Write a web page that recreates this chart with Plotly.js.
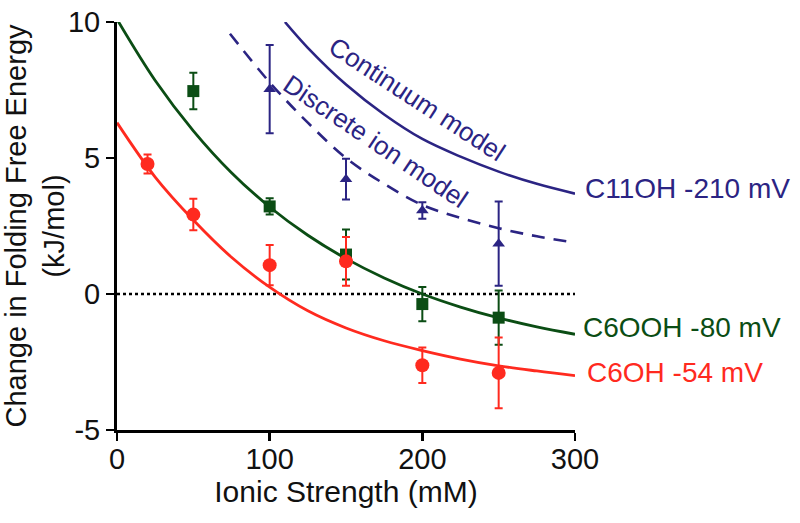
<!DOCTYPE html>
<html>
<head>
<meta charset="utf-8">
<script src="https://cdn.plot.ly/plotly-3.0.1.min.js"></script>
<style>
html,body{margin:0;padding:0;background:#fff;}
#chart{width:800px;height:523px;}
</style>
</head>
<body>
<div id="chart"></div>
<script>
// Measured data (ionic strength in mM, free energy change in kJ/mol)
const c6ohX = [20, 50, 100, 150, 200, 250];
const c6ohY = [4.78, 2.92, 1.06, 1.2, -2.62, -2.9];
const c6ohErr = [0.35, 0.58, 0.74, 0.9, 0.65, 1.3];

const c6oohX = [50, 100, 150, 200, 250];
const c6oohY = [7.46, 3.22, 1.45, -0.37, -0.87];
const c6oohErr = [0.67, 0.3, 0.92, 0.63, 1.0];

const c11ohX = [100, 150, 200, 250];
const c11ohY = [7.53, 4.22, 3.07, 1.85];
const c11ohErr = [1.62, 0.75, 0.3, 1.55];

// Fitted curves
const fitX = [0, 25, 50, 75, 100, 125, 150, 175, 200, 225, 250, 275, 300];
const c6ohFit = [6.3, 4.3, 2.72, 1.35, 0.25, -0.62, -1.25, -1.72, -2.08, -2.39, -2.64, -2.83, -3.0];
const c6oohFit = [10.1, 7.85, 6.0, 4.46, 3.2, 2.16, 1.3, 0.59, 0.0, -0.48, -0.88, -1.21, -1.48];

const contX = [110, 125, 150, 175, 200, 225, 250, 275, 300];
const contY = [10.0, 9.05, 7.7, 6.6, 5.7, 5.05, 4.5, 4.05, 3.69];

const discX = [74, 100, 125, 150, 175, 200, 225, 250, 275, 300];
const discY = [9.57, 7.78, 6.3, 5.0, 4.05, 3.27, 2.8, 2.42, 2.12, 1.89];

const xTicks = [0, 100, 200, 300];
const yTicks = [-5, 0, 5, 10];

const seriesLabels = ['C11OH -210 mV', 'C6OOH -80 mV', 'C6OH -54 mV'];
const modelLabels = ['Continuum model', 'Discrete ion model'];

const RED = '#ff2a1f';
const GREEN = '#0b4d14';
const BLUE = '#2b2483';
const FONT = 'Liberation Sans, Arial, sans-serif';

const traces = [
  {x: fitX, y: c6ohFit, mode: 'lines', line: {color: RED, width: 2.8, shape: 'spline'}, hoverinfo: 'skip'},
  {x: fitX, y: c6oohFit, mode: 'lines', line: {color: GREEN, width: 2.8, shape: 'spline'}, hoverinfo: 'skip'},
  {x: contX, y: contY, mode: 'lines', line: {color: BLUE, width: 2.6, shape: 'spline'}, hoverinfo: 'skip'},
  {x: discX, y: discY, mode: 'lines', line: {color: BLUE, width: 2.6, shape: 'spline', dash: '13px,9px'}, hoverinfo: 'skip'},
  {x: c11ohX, y: c11ohY, mode: 'markers', marker: {symbol: 'triangle-up', size: 11, color: BLUE},
   error_y: {type: 'data', array: c11ohErr, color: BLUE, thickness: 2, width: 4}},
  {x: c6oohX, y: c6oohY, mode: 'markers', marker: {symbol: 'square', size: 12, color: GREEN},
   error_y: {type: 'data', array: c6oohErr, color: GREEN, thickness: 2, width: 4}},
  {x: c6ohX, y: c6ohY, mode: 'markers', marker: {symbol: 'circle', size: 14, color: RED},
   error_y: {type: 'data', array: c6ohErr, color: RED, thickness: 2, width: 4}}
];

const layout = {
  width: 800, height: 523,
  margin: {l: 117, r: 225, t: 22, b: 93},
  paper_bgcolor: '#fff', plot_bgcolor: '#fff',
  showlegend: false,
  font: {family: FONT, color: '#111', size: 27},
  xaxis: {
    range: [0, 300], tickvals: xTicks, ticktext: xTicks.map(String),
    showgrid: false, zeroline: false, showline: true, linecolor: '#000', linewidth: 3,
    ticks: 'outside', ticklen: 8, tickwidth: 2.5, tickcolor: '#000',
    ticklabelstandoff: -7,
    tickfont: {family: FONT, size: 29, color: '#111'},
    title: {text: 'Ionic Strength (mM)', font: {family: FONT, size: 30, color: '#111'}, standoff: 8},
    automargin: false, fixedrange: true
  },
  yaxis: {
    range: [-5, 10], tickvals: yTicks, ticktext: yTicks.map(String),
    showgrid: false, zeroline: false, showline: true, linecolor: '#000', linewidth: 3,
    ticks: 'outside', ticklen: 8, tickwidth: 2.5, tickcolor: '#000',
    tickfont: {family: FONT, size: 29, color: '#111'},
    title: {text: 'Change in Folding Free Energy<br>(kJ/mol)', font: {family: FONT, size: 29, color: '#111'}, standoff: 8},
    automargin: false, fixedrange: true
  },
  shapes: [
    {type: 'line', xref: 'paper', x0: 0, x1: 1, yref: 'y', y0: 0, y1: 0,
     line: {color: '#000', width: 2.5, dash: 'dot'}, layer: 'below'}
  ],
  annotations: [
    {x: 196.3, y: 7.16, xref: 'x', yref: 'y', text: modelLabels[0], showarrow: false, textangle: 33,
     font: {family: FONT, size: 26, color: BLUE}},
    {x: 169, y: 5.62, xref: 'x', yref: 'y', text: modelLabels[1], showarrow: false, textangle: 34,
     font: {family: FONT, size: 26, color: BLUE}},
    {x: 1.018, y: 3.89, xref: 'paper', yref: 'y', text: seriesLabels[0], showarrow: false, xanchor: 'left',
     font: {family: FONT, size: 28, color: BLUE}},
    {x: 1.013, y: -1.24, xref: 'paper', yref: 'y', text: seriesLabels[1], showarrow: false, xanchor: 'left',
     font: {family: FONT, size: 28, color: GREEN}},
    {x: 1.022, y: -2.89, xref: 'paper', yref: 'y', text: seriesLabels[2], showarrow: false, xanchor: 'left',
     font: {family: FONT, size: 28, color: RED}}
  ]
};

Plotly.newPlot('chart', traces, layout, {displayModeBar: false, staticPlot: true});
</script>
</body>
</html>
